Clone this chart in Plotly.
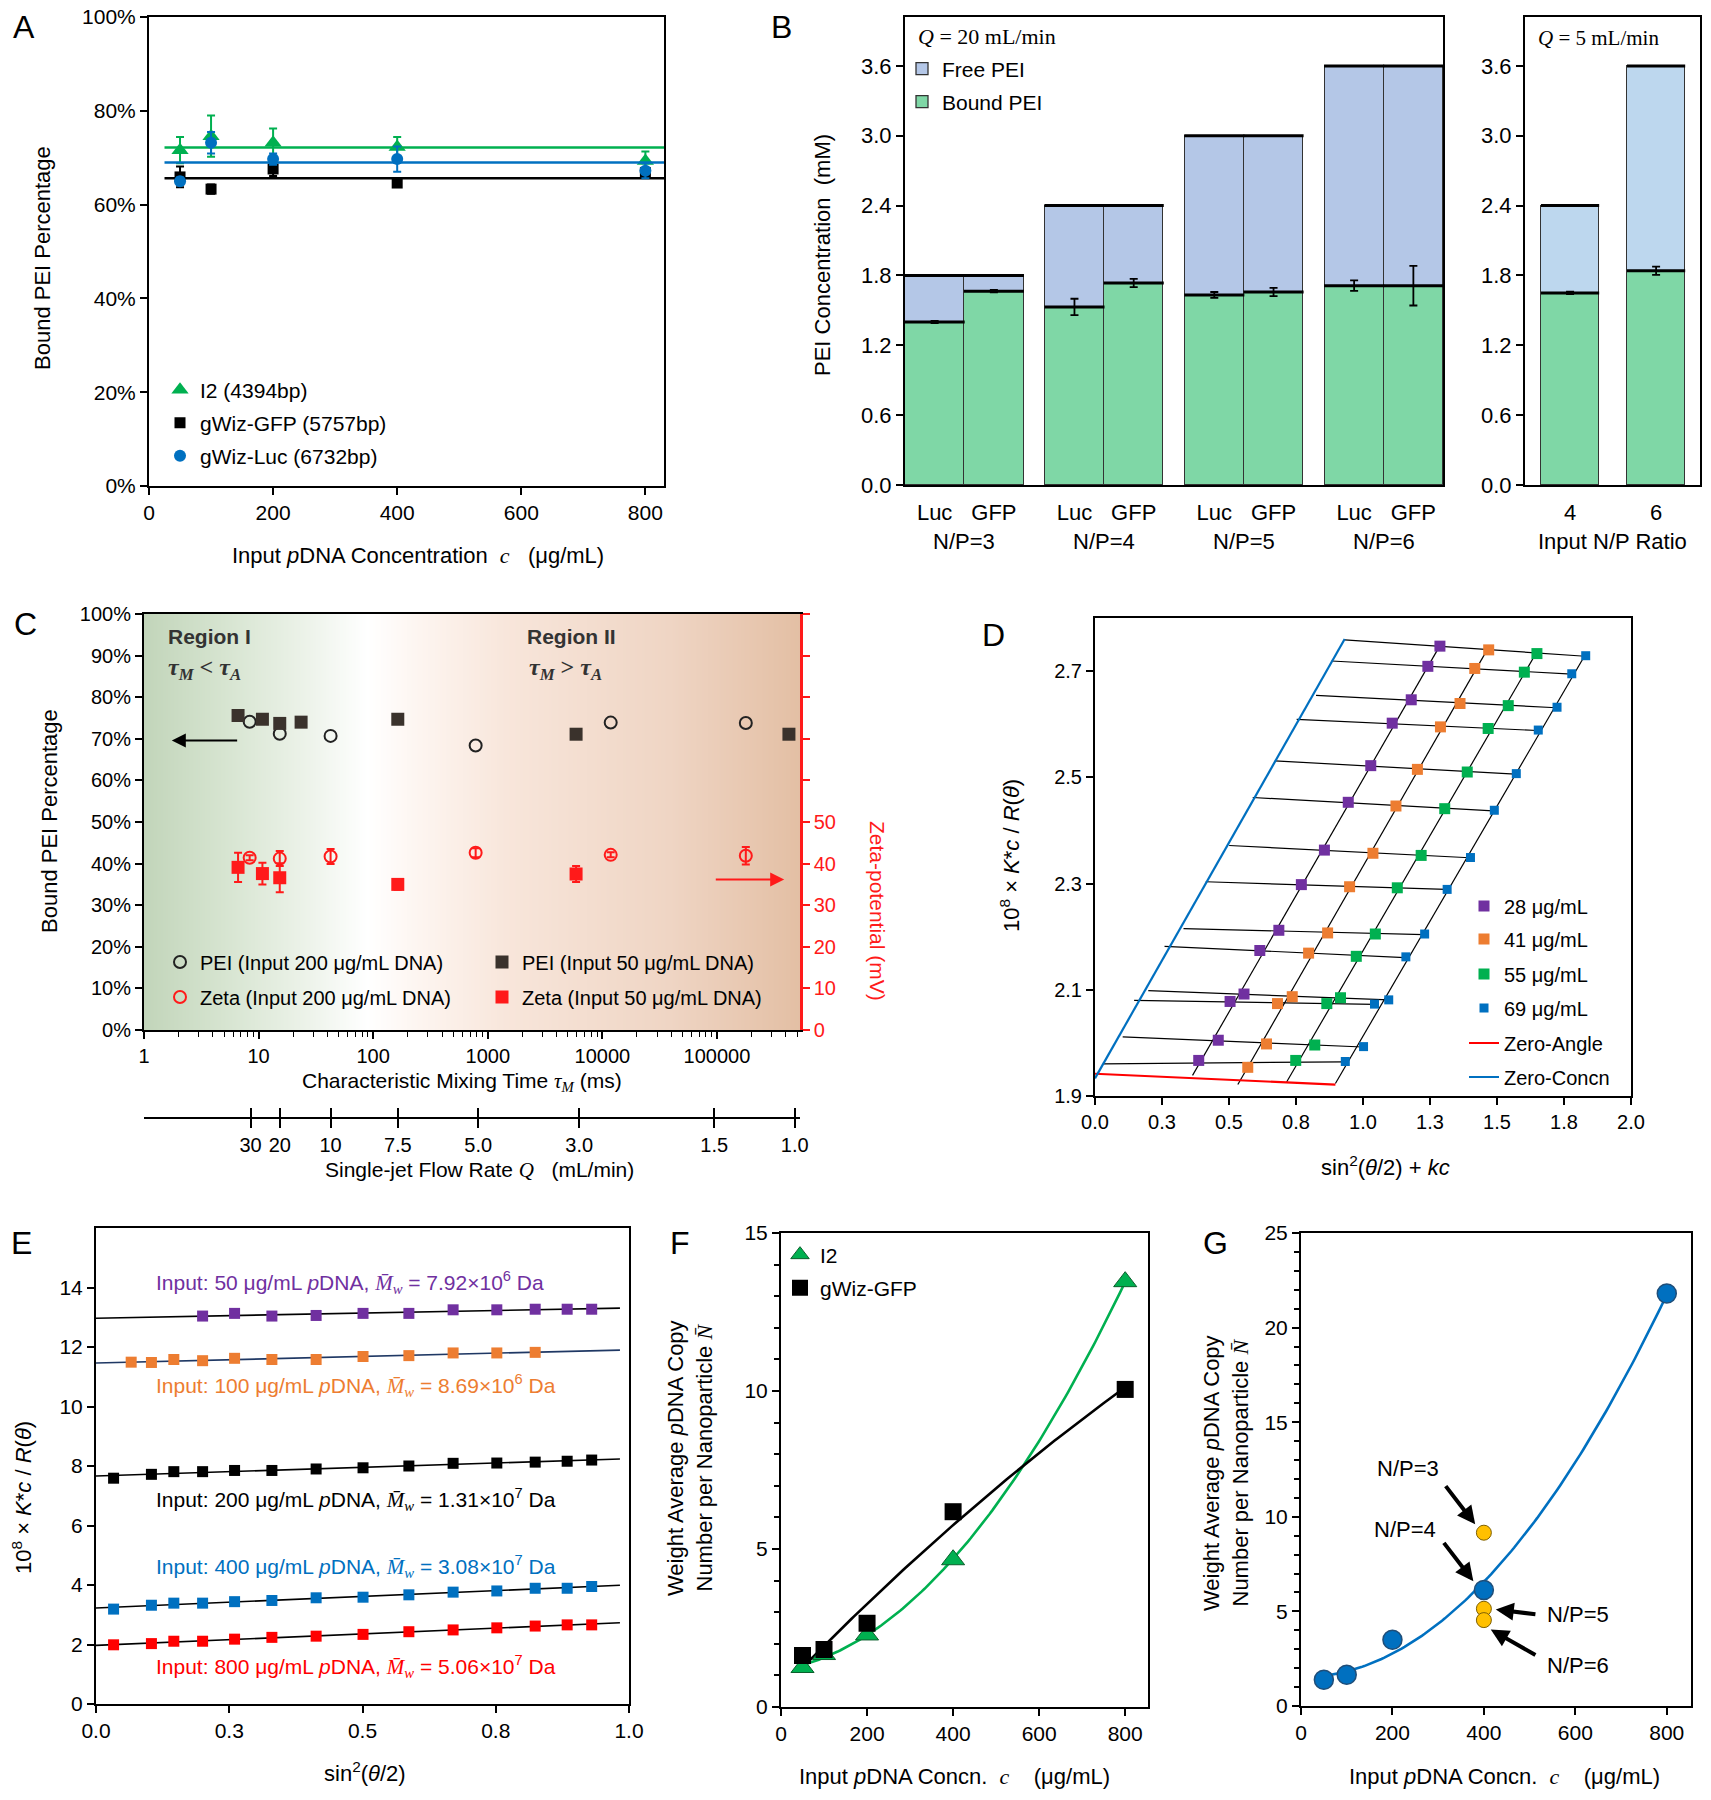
import numpy as np
import plotly.graph_objects as go

# page has an 8px body margin, so the figure is drawn 8px in from each edge
PAGE_W, PAGE_H, OFF = 1711, 1800, 8
W, H = PAGE_W - 2 * OFF, PAGE_H - 2 * OFF
SANS = "Arial, Liberation Sans, sans-serif"
NARROW = "Liberation Sans Narrow, Arial Narrow, Liberation Sans, sans-serif"

GREEN = "#00b050"
BLUE = "#0070c0"
RED = "#ff1a1a"
PURPLE = "#7030a0"
ORANGE = "#ed7d31"

# ---------------- A: bound PEI percentage ----------------
a_conc = [50, 100, 200, 400, 800]
a_i2 = [71.6, 74.6, 73.2, 72.3, 69.3]
a_i2_err = [2.8, 4.4, 3.0, 2.1, 2.0]
a_gfp = [65.9, 63.3, 67.6, 64.6, 66.8]
a_gfp_err = [2.2, 1.0, 1.5, 0.5, 1.0]
a_luc = [65.0, 73.2, 69.7, 69.7, 67.2]
a_luc_err = [0.8, 2.3, 1.2, 2.7, 1.6]
A_FIT_X = [25, 830]

# ---------------- B: PEI concentration bars ----------------
b_groups = ["N/P=3", "N/P=4", "N/P=5", "N/P=6"]
b_plasmids = ["Luc", "GFP"]
b_total = [1.8, 1.8, 2.4, 2.4, 3.0, 3.0, 3.6, 3.6]
b_bound = [1.40, 1.665, 1.53, 1.735, 1.633, 1.658, 1.712, 1.712]
b_bound_err = [0.01, 0.01, 0.07, 0.035, 0.025, 0.035, 0.045, 0.17]
b5_ratio = ["4", "6"]
b5_total = [2.4, 3.6]
b5_bound = [1.65, 1.84]
b5_bound_err = [0.01, 0.035]

# ---------------- C: mixing time ----------------
c_tau200 = [8.36, 15.3, 42.5, 784, 11830, 178700]
c_pei200 = [74.1, 71.2, 70.7, 68.4, 73.9, 73.8]
c_zeta200 = [41.4, 41.2, 41.7, 42.6, 42.1, 41.9]
c_zeta200_err = [0.6, 1.8, 1.8, 1.1, 0.6, 2.1]
c_tau50 = [6.62, 10.8, 15.3, 23.5, 164, 5900, 425000]
c_pei50 = [75.6, 74.7, 73.7, 74.0, 74.7, 71.1, 71.1]
c_tau50_zeta = [6.62, 10.8, 15.3, 164, 5900]
c_zeta50 = [39.1, 37.6, 36.6, 35.0, 37.5]
c_zeta50_err = [3.5, 2.6, 3.5, 1.3, 1.9]
c_flow_labels = ["30", "20", "10", "7.5", "5.0", "3.0", "1.5", "1.0"]
c_flow_tau = [8.5, 15.3, 42.5, 164, 826, 6280, 94800, 477000]

# ---------------- D: Zimm plot ----------------
d_conc = [28, 41, 55, 69]
d_x_28 = [1.287, 1.242, 1.180, 1.109, 1.029, 0.945, 0.856, 0.770, 0.686, 0.615, 0.556, 0.504, 0.460, 0.387]
d_y_28 = [2.747, 2.709, 2.646, 2.602, 2.522, 2.453, 2.363, 2.298, 2.212, 2.174, 2.092, 2.078, 2.005, 1.967]
d_x_41 = [1.469, 1.417, 1.362, 1.289, 1.203, 1.123, 1.037, 0.950, 0.868, 0.797, 0.736, 0.681, 0.640, 0.570]
d_y_41 = [2.740, 2.705, 2.639, 2.595, 2.515, 2.446, 2.357, 2.294, 2.207, 2.169, 2.087, 2.074, 1.998, 1.954]
d_x_55 = [1.649, 1.602, 1.542, 1.467, 1.389, 1.305, 1.217, 1.128, 1.046, 0.975, 0.916, 0.865, 0.820, 0.749]
d_y_55 = [2.733, 2.698, 2.635, 2.592, 2.510, 2.441, 2.353, 2.292, 2.205, 2.163, 2.085, 2.074, 1.996, 1.967]
d_x_69 = [1.831, 1.779, 1.724, 1.654, 1.572, 1.490, 1.401, 1.314, 1.230, 1.160, 1.096, 1.043, 1.002, 0.934]
d_y_69 = [2.729, 2.695, 2.632, 2.589, 2.507, 2.438, 2.349, 2.289, 2.205, 2.162, 2.081, 2.073, 1.993, 1.965]
D_K = 0.013
d_xtext = ["0.0", "0.3", "0.5", "0.8", "1.0", "1.3", "1.5", "1.8", "2.0"]

# ---------------- E: Debye plots ----------------
e_x_50 = [0.200, 0.260, 0.330, 0.413, 0.501, 0.587, 0.670, 0.752, 0.824, 0.884, 0.930]
e_y_50 = [13.04, 13.13, 13.04, 13.06, 13.13, 13.13, 13.25, 13.25, 13.27, 13.27, 13.27]
e_x_100 = [0.066, 0.104, 0.146, 0.200, 0.260, 0.330, 0.413, 0.501, 0.587, 0.670, 0.752, 0.824]
e_y_100 = [11.49, 11.48, 11.58, 11.54, 11.62, 11.58, 11.58, 11.68, 11.71, 11.80, 11.80, 11.82]
e_x = [0.033, 0.104, 0.146, 0.200, 0.260, 0.330, 0.413, 0.501, 0.587, 0.670, 0.752, 0.824, 0.884, 0.930]
e_y_200 = [7.59, 7.72, 7.81, 7.81, 7.85, 7.85, 7.90, 7.94, 8.00, 8.09, 8.10, 8.13, 8.16, 8.20]
e_y_400 = [3.19, 3.32, 3.39, 3.39, 3.44, 3.48, 3.57, 3.59, 3.67, 3.76, 3.80, 3.89, 3.89, 3.95]
e_y_800 = [1.99, 2.03, 2.11, 2.11, 2.18, 2.24, 2.28, 2.34, 2.43, 2.49, 2.56, 2.62, 2.66, 2.66]
e_mw = ["7.92×10<sup>6</sup>", "8.69×10<sup>6</sup>", "1.31×10<sup>7</sup>", "3.08×10<sup>7</sup>", "5.06×10<sup>7</sup>"]
e_input = [50, 100, 200, 400, 800]
e_label_y = [14.18, 10.7, 6.86, 4.62, 1.27]
E_FIT_X = [0, 0.983]

# ---------------- F / G: copy number ----------------
f_conc = [50, 100, 200, 400, 800]
f_i2 = [1.25, 1.66, 2.28, 4.66, 13.46]
f_gfp = [1.63, 1.82, 2.65, 6.18, 10.05]
g_conc = [50, 100, 200, 400, 800]
g_n = [1.39, 1.65, 3.50, 6.13, 21.8]
g_np_conc = [400, 400, 400]
g_np_n = [9.16, 5.14, 4.54]

fig = go.Figure()


def px_x(x):
    return (x - OFF) / W


def px_y(y):
    return 1 - (y - OFF) / H


def xd(l, r):
    return [px_x(l), px_x(r)]


def yd(t, b):
    return [px_y(b), px_y(t)]


legends = {}


def legend_at(x_px, y_px, size=21):
    name = "legend" if not legends else "legend%d" % (len(legends) + 1)
    legends[name] = dict(x=px_x(x_px - 20), xanchor="left", y=px_y(y_px), yanchor="middle",
                         bgcolor="rgba(0,0,0,0)", borderwidth=0,
                         font=dict(family=SANS, size=size, color="black"))
    return name


def note(text, x, y, size=21, color="black", angle=0, xanchor="center", family=SANS):
    fig.add_annotation(text=text, x=px_x(x), y=px_y(y), xref="paper", yref="paper",
                       showarrow=False, textangle=angle, xanchor=xanchor, yanchor="middle",
                       font=dict(family=family, size=size, color=color))


def axis(domain, rng, anchor, **kw):
    d = dict(domain=domain, range=rng, anchor=anchor, showline=True, linecolor="black",
             linewidth=2, mirror=True, ticks="outside", ticklen=7, tickwidth=2,
             tickcolor="black", showgrid=False, zeroline=False, automargin=False,
             ticklabeloverflow="allow",
             tickfont=dict(family=SANS, size=21, color="black"))
    d.update(kw)
    return d


def serif(t):
    return "<span style='font-family:Liberation Serif'>" + t + "</span>"


# ================= A =================
for name, vals, errs, color, sym, size, ly in [
        ("I2 (4394bp)", a_i2, a_i2_err, GREEN, "triangle-up", 15, 390),
        ("gWiz-GFP (5757bp)", a_gfp, a_gfp_err, "black", "square", 11, 423),
        ("gWiz-Luc (6732bp)", a_luc, a_luc_err, BLUE, "circle", 12, 456)]:
    fig.add_trace(go.Scatter(x=A_FIT_X, y=[np.mean(vals)] * 2, mode="lines",
                             line=dict(color=color, width=2.5), showlegend=False,
                             xaxis="x", yaxis="y"))
    fig.add_trace(go.Scatter(x=a_conc, y=vals, mode="markers", name=name,
                             marker=dict(symbol=sym, color=color, size=size),
                             error_y=dict(type="data", array=errs, color=color, thickness=2, width=4),
                             legend=legend_at(180, ly), xaxis="x", yaxis="y"))

# ================= B =================
b_pos = [g * 2.36 + 0.5 + p for g in range(len(b_groups)) for p in range(len(b_plasmids))]
b_free = [t - b for t, b in zip(b_total, b_bound)]
b5_pos = [i * 1.47 for i in range(len(b5_ratio))]
b5_free = [t - b for t, b in zip(b5_total, b5_bound)]
FREE_C, FREE_C2, BOUND_C = "#b4c7e7", "#bdd7ee", "#7fd7a6"

lg_free = legend_at(922, 69)
lg_bound = legend_at(922, 102)
for xs, bound, free, err, fc, xa, ya, w, bar_px in [
        (b_pos, b_bound, b_free, b_bound_err, FREE_C, "x2", "y2", 1.0, 538 / 9.08),
        (b5_pos, b5_bound, b5_free, b5_bound_err, FREE_C2, "x3", "y3", 0.98, 175 / 2.99 * 0.98)]:
    first = xa == "x2"
    fig.add_trace(go.Bar(x=xs, y=bound, width=w, name="Bound PEI",
                         marker=dict(color=BOUND_C, line=dict(color="#333", width=1.3)),
                         showlegend=first, legend=lg_bound, xaxis=xa, yaxis=ya))
    fig.add_trace(go.Bar(x=xs, y=free, width=w, name="Free PEI",
                         marker=dict(color=fc, line=dict(color="#333", width=1.3)),
                         showlegend=first, legend=lg_free, xaxis=xa, yaxis=ya))
    tops = [b + f for b, f in zip(bound, free)]
    fig.add_trace(go.Scatter(x=xs + xs, y=bound + tops, mode="markers", showlegend=False,
                             marker=dict(symbol="line-ew", size=bar_px / 1.38,
                                         line=dict(width=3, color="black")),
                             hoverinfo="skip", xaxis=xa, yaxis=ya))
    fig.add_trace(go.Scatter(x=xs, y=bound, mode="markers", showlegend=False,
                             marker=dict(size=1, color="rgba(0,0,0,0)"),
                             error_y=dict(type="data", array=err, color="black", thickness=1.8, width=4),
                             xaxis=xa, yaxis=ya))

# ================= C =================
c_lo, c_hi = 0.0, 5.725
bg_x = np.logspace(c_lo, c_hi, 300)
fig.add_trace(go.Heatmap(x=bg_x, y=[0, 100], z=[np.linspace(0, 1, 300)] * 2, zmin=0, zmax=1,
                         showscale=False, hoverinfo="skip", zsmooth="best",
                         colorscale=[[0, "#c2d5ba"], [0.12, "#d6e4d0"], [0.25, "#edf3ea"],
                                     [0.34, "#ffffff"], [0.42, "#fdf5f0"], [0.55, "#f8e6db"],
                                     [0.8, "#efd5c4"], [1, "#e3bfa4"]],
                         xaxis="x4", yaxis="y4"))
fig.add_trace(go.Scatter(x=c_tau200, y=c_pei200, mode="markers", name="PEI (Input 200 μg/mL DNA)",
                         marker=dict(symbol="circle-open", color="#222", size=12, line=dict(width=2)),
                         legend=legend_at(180, 962, 20), xaxis="x4", yaxis="y4"))
fig.add_trace(go.Scatter(x=c_tau50, y=c_pei50, mode="markers", name="PEI (Input 50 μg/mL DNA)",
                         marker=dict(symbol="square", color="#3a322c", size=13),
                         legend=legend_at(502, 962, 20), xaxis="x4", yaxis="y4"))
fig.add_trace(go.Scatter(x=c_tau200, y=c_zeta200, mode="markers", name="Zeta (Input 200 μg/mL DNA)",
                         marker=dict(symbol="circle-open", color=RED, size=12, line=dict(width=2)),
                         error_y=dict(type="data", array=c_zeta200_err, color=RED, thickness=2, width=4),
                         legend=legend_at(180, 997, 20), xaxis="x4", yaxis="y5"))
fig.add_trace(go.Scatter(x=c_tau50_zeta, y=c_zeta50, mode="markers", name="Zeta (Input 50 μg/mL DNA)",
                         marker=dict(symbol="square", color=RED, size=13),
                         error_y=dict(type="data", array=c_zeta50_err, color=RED, thickness=2, width=4),
                         legend=legend_at(502, 997, 20), xaxis="x4", yaxis="y5"))
fig.add_trace(go.Scatter(x=[], y=[], showlegend=False, xaxis="x5", yaxis="y6"))
fig.add_trace(go.Scatter(x=[], y=[], showlegend=False, xaxis="x11", yaxis="y6"))

# ================= D =================
DX = np.array([d_x_28, d_x_41, d_x_55, d_x_69])
DY = np.array([d_y_28, d_y_41, d_y_55, d_y_69])
dc = np.array(d_conc, dtype=float)
S = DX - D_K * dc[:, None]
s_ang = S.mean(axis=0)
grid_x, grid_y, zc_s, zc_y, za_y = [], [], [], [], []
for j in range(DX.shape[1]):
    b, a = np.polyfit(dc, DY[:, j], 1)
    grid_x += [s_ang[j], s_ang[j] + D_K * dc[-1], None]
    grid_y += [a, a + b * dc[-1], None]
    zc_s.append(s_ang[j])
    zc_y.append(a)
for i in range(len(dc)):
    b, a = np.polyfit(S[i], DY[i], 1)
    smax = S[i].max()
    grid_x += [D_K * dc[i], D_K * dc[i] + smax, None]
    grid_y += [a, a + b * smax, None]
    za_y.append(a)
fig.add_trace(go.Scatter(x=grid_x, y=grid_y, mode="lines", line=dict(color="black", width=1.2),
                         showlegend=False, xaxis="x7", yaxis="y8"))
bz, az = np.polyfit(zc_s, zc_y, 1)
smx = max(zc_s)
ba, aa = np.polyfit(dc, za_y, 1)
for cx, cy, col in [([0, D_K * dc[-1]], [aa, aa + ba * dc[-1]], "#ff0000"),
                    ([0, smx], [az, az + bz * smx], BLUE)]:
    fig.add_trace(go.Scatter(x=cx, y=cy, mode="lines", line=dict(color=col, width=2.2),
                             showlegend=False, xaxis="x7", yaxis="y8"))
d_cols = [PURPLE, ORANGE, GREEN, BLUE]
d_ly = [906, 939, 974, 1008]
for i, c in enumerate(d_conc):
    fig.add_trace(go.Scatter(x=DX[i], y=DY[i], mode="markers", name="%d μg/mL" % c,
                             marker=dict(symbol="square", color=d_cols[i], size=11 if i < 3 else 9),
                             legend=legend_at(1484, d_ly[i], 20), xaxis="x7", yaxis="y8"))
for nm, col, ly in [("Zero-Angle", "#ff0000", 1043), ("Zero-Concn", BLUE, 1077)]:
    fig.add_trace(go.Scatter(x=[None], y=[None], mode="lines", line=dict(color=col, width=2.2), name=nm,
                             legend=legend_at(1484, ly, 20), xaxis="x7", yaxis="y8"))

# ================= E =================
e_series = [(e_x_50, e_y_50, PURPLE, "black"), (e_x_100, e_y_100, ORANGE, "#1f3864"),
            (e_x, e_y_200, "black", "black"), (e_x, e_y_400, BLUE, "black"),
            (e_x, e_y_800, "#ff0000", "black")]
for xs, ys, col, lcol in e_series:
    b, a = np.polyfit(xs, ys, 1)
    fig.add_trace(go.Scatter(x=E_FIT_X, y=[a + b * v for v in E_FIT_X], mode="lines",
                             line=dict(color=lcol, width=1.6), showlegend=False, xaxis="x8", yaxis="y9"))
    fig.add_trace(go.Scatter(x=xs, y=ys, mode="markers", showlegend=False,
                             marker=dict(symbol="square", color=col, size=11), xaxis="x8", yaxis="y9"))
mw = serif("<i>M\u0304</i><sub><i>w</i></sub>")
for (xs, ys, col, lcol), inp, m, ty in zip(e_series, e_input, e_mw, e_label_y):
    fig.add_annotation(text="Input: %d μg/mL <i>p</i>DNA, %s = %s Da" % (inp, mw, m),
                       x=0.108, y=ty, xref="x8", yref="y9", xanchor="left", showarrow=False,
                       font=dict(family=SANS, size=21, color=col))

# ================= F =================
for xs, ys, col in [(f_conc, f_i2, GREEN), (f_conc, f_gfp, "black")]:
    p = np.polyfit(xs, ys, 2)
    fx = np.linspace(min(xs), max(xs), 120)
    fig.add_trace(go.Scatter(x=fx, y=np.polyval(p, fx), mode="lines", line=dict(color=col, width=2.6),
                             showlegend=False, xaxis="x9", yaxis="y10"))
fig.add_trace(go.Scatter(x=f_conc, y=f_i2, mode="markers", name="I2",
                         marker=dict(symbol="triangle-up", color=GREEN, size=20, line=dict(color="#0b5f2c", width=1)),
                         legend=legend_at(800, 1255), xaxis="x9", yaxis="y10"))
fig.add_trace(go.Scatter(x=f_conc, y=f_gfp, mode="markers", name="gWiz-GFP",
                         marker=dict(symbol="square", color="black", size=17),
                         legend=legend_at(800, 1288), xaxis="x9", yaxis="y10"))

# ================= G =================
p = np.polyfit(g_conc, g_n, 2)
gx = np.linspace(min(g_conc), max(g_conc), 120)
fig.add_trace(go.Scatter(x=gx, y=np.polyval(p, gx), mode="lines", line=dict(color=BLUE, width=2.6),
                         showlegend=False, xaxis="x10", yaxis="y11"))
fig.add_trace(go.Scatter(x=g_conc, y=g_n, mode="markers", showlegend=False,
                         marker=dict(color=BLUE, size=19, line=dict(color="#1f4e79", width=1.5)),
                         xaxis="x10", yaxis="y11"))
fig.add_trace(go.Scatter(x=g_np_conc, y=g_np_n, mode="markers", showlegend=False,
                         marker=dict(color="#ffc000", size=15, line=dict(color="#7f6000", width=1)),
                         xaxis="x10", yaxis="y11"))

g_text = [("N/P=3", 235, 12.54), ("N/P=4", 227, 9.35), ("N/P=5", 606, 4.84), ("N/P=6", 606, 2.15)]
g_arrows = [(314, 11.7, 381, 9.6), (310, 8.7, 377, 6.6), (516, 4.84, 426, 5.1), (516, 2.65, 415, 4.04)]
for t, tx, ty in g_text:
    fig.add_annotation(text=t, x=tx, y=ty, xref="x10", yref="y11", showarrow=False,
                       font=dict(family=SANS, size=22, color="black"))
for ax_, ay_, hx, hy in g_arrows:
    fig.add_annotation(text="", x=hx, y=hy, ax=ax_, ay=ay_, xref="x10", yref="y11",
                       axref="x10", ayref="y11", showarrow=True, arrowhead=2, arrowsize=0.9,
                       arrowwidth=4, arrowcolor="black")

# ================= annotations =================
for t, x, y in [("A", 24, 27), ("B", 781, 27), ("C", 25, 624), ("D", 993, 635),
                ("E", 21, 1243), ("F", 680, 1243), ("G", 1215, 1243)]:
    note(t, x, y, size=32)

note("Bound PEI Percentage", 42, 258, size=22, angle=-90)
note("Input <i>p</i>DNA Concentration  " + serif("<i>c</i>") + "   (μg/mL)", 418, 555, size=22)

note("PEI Concentration  (mM)", 822, 255, size=22, angle=-90)
note(serif("<i>Q</i> = 20 mL/min"), 916, 36, size=22, xanchor="left")
note(serif("<i>Q</i> = 5 mL/min"), 1536, 38, size=21, xanchor="left")
for g, name in enumerate(b_groups):
    fig.add_annotation(text=name, x=(b_pos[2 * g] + b_pos[2 * g + 1]) / 2, y=px_y(542),
                       xref="x2", yref="paper", showarrow=False, yanchor="middle",
                       font=dict(family=NARROW, size=22, color="black"))
note("Input N/P Ratio", 1612, 542, size=22, family=NARROW)

note("Bound PEI Percentage", 49, 821, size=22, angle=-90)
note("Zeta-potential (mV)", 878, 911, size=21, color=RED, angle=90)
note("Characteristic Mixing Time " + serif("<i>τ<sub>M</sub></i>") + " (ms)", 462, 1082, size=21)
note("Single-jet Flow Rate " + serif("<i>Q</i>") + "   (mL/min)", 479, 1170, size=21)
note("<b>Region I</b>", 166, 636, size=21, color="#333", xanchor="left")
note("<b>" + serif("<i>τ<sub>M</sub></i> < <i>τ<sub>A</sub></i>") + "</b>", 166, 669, size=24,
     color="#333", xanchor="left")
note("<b>Region II</b>", 525, 636, size=21, color="#333", xanchor="left")
note("<b>" + serif("<i>τ<sub>M</sub></i> > <i>τ<sub>A</sub></i>") + "</b>", 527, 669, size=24,
     color="#333", xanchor="left")
for tail, head, yv, col in [(0.826, 0.243, 69.6, "black"), (4.977, 5.587, 36.2, RED)]:
    fig.add_annotation(text="", x=head, y=yv, ax=tail, ay=yv, xref="x4", yref="y4",
                       axref="x4", ayref="y4", showarrow=True, arrowhead=2, arrowsize=1.4,
                       arrowwidth=2, arrowcolor=col)

note("10<sup>8</sup> × <i>K</i>*<i>c</i> / <i>R</i>(<i>θ</i>)", 1010, 855, size=22, angle=-90)
note("sin<sup>2</sup>(<i>θ</i>/2) + <i>kc</i>", 1385, 1166, size=22)

note("10<sup>8</sup> × <i>K</i>*<i>c</i> / <i>R</i>(<i>θ</i>)", 22, 1498, size=22, angle=-90)
note("sin<sup>2</sup>(<i>θ</i>/2)", 365, 1772, size=22)

ytitle_fg = "Weight Average <i>p</i>DNA Copy<br>Number per Nanoparticle " + serif("<i>N\u0304</i>")
note(ytitle_fg, 690, 1458, size=22, angle=-90)
note(ytitle_fg, 1226, 1473, size=22, angle=-90)
xtitle_fg = "Input <i>p</i>DNA Concn.  " + serif("<i>c</i>") + "    (μg/mL)"
note(xtitle_fg, 955, 1776, size=22)
note(xtitle_fg, 1504, 1776, size=22)

# ================= axes =================
pct20 = list(range(0, 101, 20))
pct10 = list(range(0, 101, 10))
b_ticks = [0, 0.6, 1.2, 1.8, 2.4, 3.0, 3.6]
narrow_font = dict(family=NARROW, size=22, color="black")
c_minor = [m * 10 ** d for d in range(0, 6) for m in range(2, 10)]
layout_axes = dict(
    xaxis=axis(xd(149, 664), [0, 830], "y", tickvals=[0, 200, 400, 600, 800]),
    yaxis=axis(yd(17, 486), [0, 100], "x", tickvals=pct20, ticktext=["%d%%" % v for v in pct20]),
    xaxis2=axis(xd(905, 1443), [0, 9.08], "y2", ticks="", tickvals=b_pos,
                ticktext=b_plasmids * len(b_groups), tickfont=narrow_font, ticklabelstandoff=7),
    yaxis2=axis(yd(17, 485), [0, 4.02], "x2", tickvals=b_ticks, tickformat=".1f", tickfont=narrow_font),
    xaxis3=axis(xd(1525, 1700), [-0.77, 2.22], "y3", ticks="", tickvals=b5_pos, ticktext=b5_ratio,
                tickfont=narrow_font, ticklabelstandoff=7),
    yaxis3=axis(yd(17, 485), [0, 4.02], "x3", tickvals=b_ticks, tickformat=".1f", tickfont=narrow_font),
    xaxis4=axis(xd(144, 800), [c_lo, c_hi], "y4", type="log",
                tickvals=[1, 10, 100, 1000, 10000, 100000],
                ticktext=["1", "10", "100", "1000", "10000", "100000"],
                tickfont=dict(family=SANS, size=20, color="black"),
                minor=dict(tickvals=c_minor, ticks="outside", ticklen=5, tickwidth=1.2, tickcolor="black")),
    yaxis4=axis(yd(614, 1030), [0, 100], "x4", mirror=False, tickvals=pct10,
                ticktext=["%d%%" % v for v in pct10], tickfont=dict(family=SANS, size=20, color="black")),
    yaxis5=axis(yd(614, 1030), [0, 100], "x4", overlaying="y4", side="right", mirror=False,
                linecolor=RED, tickcolor=RED, linewidth=2.5, tickvals=pct10,
                ticktext=["0", "10", "20", "30", "40", "50", "", "", "", "", ""],
                tickfont=dict(family=SANS, size=20, color=RED)),
    xaxis5=axis(xd(144, 800), [c_lo, c_hi], "y6", type="log", mirror=False, ticklen=9,
                tickvals=c_flow_tau, ticktext=c_flow_labels, linewidth=1.8,
                tickfont=dict(family=SANS, size=20, color="black")),
    xaxis11=axis(xd(144, 800), [c_lo, c_hi], "y6", type="log", mirror=False, ticklen=9,
                 overlaying="x5", ticks="inside", tickvals=c_flow_tau, showticklabels=False,
                 linewidth=1.8),
    yaxis6=dict(domain=yd(1116, 1117), anchor="x5", visible=False, range=[0, 1]),
    xaxis7=axis(xd(1095, 1631), [0, 2.0], "y8", tickvals=[i * 0.25 for i in range(9)], ticktext=d_xtext,
                tickfont=dict(family=SANS, size=20, color="black")),
    yaxis8=axis(yd(618, 1096), [1.9, 2.8], "x7", tickvals=[1.9, 2.1, 2.3, 2.5, 2.7], tickformat=".1f",
                tickfont=dict(family=SANS, size=20, color="black")),
    xaxis8=axis(xd(96, 629), [0, 1.0], "y9", tickvals=[0, 0.25, 0.5, 0.75, 1.0],
                ticktext=["0.0", "0.3", "0.5", "0.8", "1.0"]),
    yaxis9=axis(yd(1228, 1704), [0, 16], "x8", tickvals=list(range(0, 15, 2))),
    xaxis9=axis(xd(781, 1148), [0, 853], "y10", tickvals=[0, 200, 400, 600, 800]),
    yaxis10=axis(yd(1233, 1707), [0, 15], "x9", tickvals=[0, 5, 10, 15],
                 minor=dict(dtick=1, ticks="outside", ticklen=5, tickwidth=1.5, tickcolor="black")),
    xaxis10=axis(xd(1301, 1691), [0, 853], "y11", tickvals=[0, 200, 400, 600, 800]),
    yaxis11=axis(yd(1233, 1706), [0, 25], "x10", tickvals=[0, 5, 10, 15, 20, 25],
                 minor=dict(dtick=1, ticks="outside", ticklen=5, tickwidth=1.5, tickcolor="black")),
)

fig.update_layout(width=W, height=H, margin=dict(l=0, r=0, t=0, b=0),
                  paper_bgcolor="white", plot_bgcolor="white", barmode="stack", bargap=0,
                  font=dict(family=SANS, size=21, color="black"), showlegend=True,
                  **layout_axes, **legends)

fig.write_html("out.html")
